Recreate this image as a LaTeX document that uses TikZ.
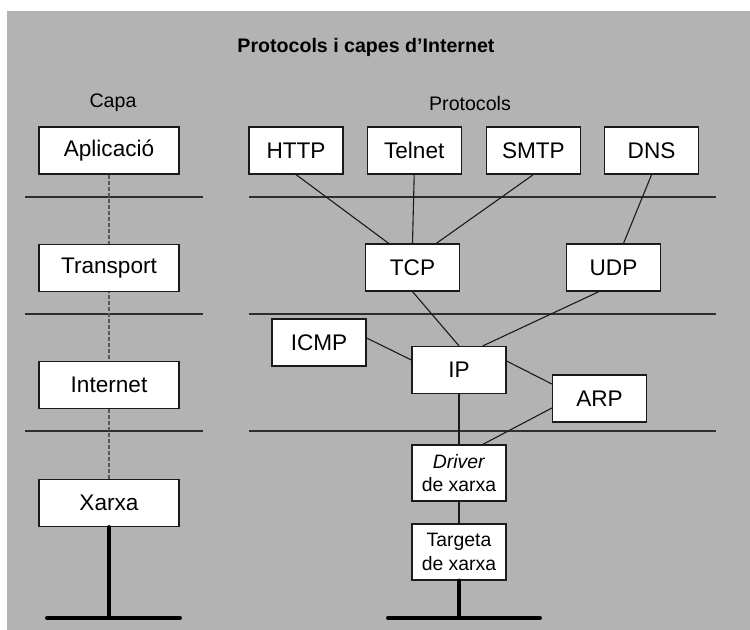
\documentclass[tikz,border=0pt]{standalone}
\usepackage{fontspec}
\setmainfont{Liberation Sans}
\usetikzlibrary{positioning,calc}
\definecolor{backgray}{HTML}{B3B3B3}
\definecolor{ink}{HTML}{1A1A1A}
\definecolor{rule}{HTML}{2E2E2E}

\begin{document}
\begin{tikzpicture}[x=0.5pt,y=-0.5pt,
  layer/.style={draw=ink,fill=white,line width=0.6pt,minimum width=70pt,minimum height=23.5pt,inner sep=0pt,font=\fontsize{11.3}{13}\selectfont},
  proto/.style={layer,minimum width=47pt},
  card/.style={proto,minimum height=28pt,align=center,font=\fontsize{9.7}{11.7}\selectfont},
  link/.style={draw=ink,line width=0.55pt},
  sep/.style={draw=rule,line width=0.65pt},
  wire/.style={draw=black,line width=2pt,line cap=round},
  head/.style={font=\fontsize{9.8}{12}\selectfont}]
\useasboundingbox (0,0) rectangle (750,630);
\fill[backgray] (7,11) rectangle (750,630);
\node[font=\bfseries\fontsize{9.8}{12}\selectfont] (title) at (366,47) {Protocols i capes d’Internet};
\node[head] (capa) at (113,103) {Capa};
\node[head] (protos) at (470,103) {Protocols};
% layer separators
\foreach \y in {197,314,431} {
  \draw[sep] (25,\y) -- (203,\y);
  \draw[sep] (249,\y) -- (716,\y);
}
% layers
\node[layer] (aplic) at (109,150.5) {Aplicació};
\node[layer] (xarxa) at (109,503) {Xarxa};
\draw[draw=black!65,line width=0.6pt,dash pattern=on 2pt off 1pt] (aplic.south) -- (xarxa.north);
\node[layer] (transp) at (109,268) {Transport};
\node[layer] (inet) at (109,385) {Internet};
% protocols
\node[proto] (http) at (296,150.5) {HTTP};
\node[proto,right=11.5pt of http] (telnet) {Telnet};
\node[proto,right=12pt of telnet] (smtp) {SMTP};
\node[proto,right=11.5pt of smtp] (dns) {DNS};
\node[proto] (tcp) at (412.5,267.5) {TCP};
\node[proto] (udp) at (613.5,267.5) {UDP};
\node[proto] (icmp) at (319,342.5) {ICMP};
\node[proto] (ip) at (459,370) {IP};
\node[proto] (arp) at (599.5,398.5) {ARP};
\node[card] (driver) at (459,473) {\textit{Driver}\\de xarxa};
\node[card] (targeta) at (459,552) {Targeta\\de xarxa};
\draw[link] (http.south) -- ($(tcp.north west)!0.25!(tcp.north east)$);
\draw[link] (telnet.south) -- (tcp.north);
\draw[link] (smtp.south) -- ($(tcp.north west)!0.75!(tcp.north east)$);
\draw[link] (dns.south) -- ($(udp.north)+(10,0)$);
\draw[link] (tcp.south) -- (ip.north);
\draw[link] ($(udp.south)+(-14.5,0)$) -- ($(ip.north west)!0.75!(ip.north east)$);
\draw[link] ($(icmp.east)+(0,-4.5)$) -- ($(ip.west)+(0,-10)$);
\draw[link] ($(ip.east)+(0,-9)$) -- ($(arp.west)+(0,-14.5)$);
\draw[link] ($(arp.west)+(0,9.5)$) -- ($(driver.north west)!0.75!(driver.north east)$);
\draw[link] (ip.south) -- (driver.north);
\draw[link] (driver.south) -- (targeta.north);
% physical network
\coordinate (gndL) at (109,618);
\coordinate (gndR) at (459,618);
\draw[wire] (xarxa.south) -- (gndL);
\draw[wire] (47,618) -- (180,618);
\draw[wire] (targeta.south) -- (gndR);
\draw[wire] (388,618) -- (540,618);
\end{tikzpicture}
\end{document}
